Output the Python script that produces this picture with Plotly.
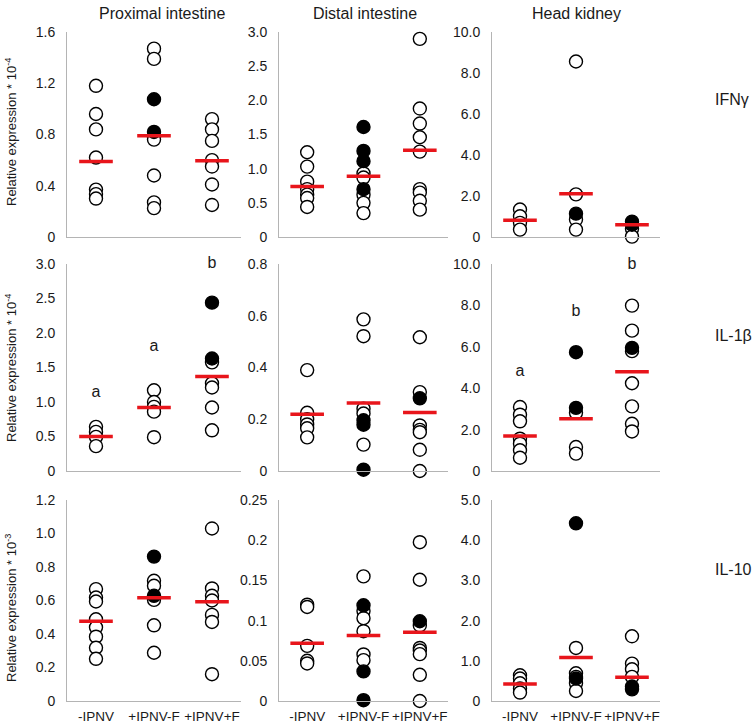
import plotly.graph_objects as go

W, H = 753, 727

groups = ["-IPNV", "+IPNV-F", "+IPNV+F"]
tissues = ["Proximal intestine", "Distal intestine", "Head kidney"]
genes = ["IFNγ", "IL-1β", "IL-10"]
ytitles = ["Relative expression * 10<sup>-4</sup>",
           "Relative expression * 10<sup>-4</sup>",
           "Relative expression * 10<sup>-3</sup>"]

# ---- Row 1: IFNγ ----
prox_ifn_open = [[1.18, 0.96, 0.84, 0.62, 0.37, 0.335, 0.30],
                 [1.47, 1.39, 0.78, 0.76, 0.48, 0.27, 0.225],
                 [0.92, 0.84, 0.75, 0.60, 0.55, 0.41, 0.25]]
prox_ifn_filled = [[], [1.075, 0.82], []]
prox_ifn_mid = [0.59, 0.79, 0.595]
prox_ifn_ticks = [0, 0.4, 0.8, 1.2, 1.6]
prox_ifn_labels = ["0", "0.4", "0.8", "1.2", "1.6"]

dist_ifn_open = [[1.24, 1.03, 0.81, 0.70, 0.62, 0.57, 0.44],
                 [0.93, 0.87, 0.62, 0.50, 0.35],
                 [2.90, 1.88, 1.66, 1.46, 1.25, 0.70, 0.65, 0.53, 0.40]]
dist_ifn_filled = [[], [1.61, 1.26, 1.11, 0.70], []]
dist_ifn_mid = [0.74, 0.89, 1.27]
dist_ifn_ticks = [0, 0.5, 1.0, 1.5, 2.0, 2.5, 3.0]
dist_ifn_labels = ["0", "0.5", "1.0", "1.5", "2.0", "2.5", "3.0"]

hk_ifn_open = [[1.34, 1.01, 0.69, 0.36],
               [8.56, 2.08, 0.85, 0.36],
               [0.40, 0.02]]
hk_ifn_filled = [[], [1.14], [0.75, 0.60]]
hk_ifn_mid = [0.82, 2.11, 0.60]
hk_ifn_ticks = [0, 2, 4, 6, 8, 10]
hk_ifn_labels = ["0", "2.0", "4.0", "6.0", "8.0", "10.0"]

# ---- Row 2: IL-1β ----
prox_il1_open = [[0.64, 0.567, 0.494, 0.36],
                 [1.17, 1.0, 0.93, 0.86, 0.49],
                 [1.575, 1.27, 1.21, 0.92, 0.59]]
prox_il1_filled = [[], [], [2.44, 1.63]]
prox_il1_mid = [0.50, 0.92, 1.37]
prox_il1_ticks = [0, 0.5, 1.0, 1.5, 2.0, 2.5, 3.0]
prox_il1_labels = ["0", "0.5", "1.0", "1.5", "2.0", "2.5", "3.0"]
prox_il1_letters = ["a", "a", "b"]
prox_il1_letter_y = [1.13, 1.79, 3.0]

dist_il1_open = [[0.39, 0.225, 0.20, 0.18, 0.165, 0.13],
                 [0.586, 0.521, 0.241, 0.222, 0.102],
                 [0.517, 0.305, 0.176, 0.159, 0.15, 0.082, 0.0]]
dist_il1_filled = [[], [0.196, 0.179, 0.005], [0.281]]
dist_il1_mid = [0.219, 0.263, 0.226]
dist_il1_ticks = [0, 0.2, 0.4, 0.6, 0.8]
dist_il1_labels = ["0", "0.2", "0.4", "0.6", "0.8"]

hk_il1_open = [[3.09, 2.72, 2.40, 1.56, 1.32, 1.00, 0.64],
               [2.81, 1.16, 0.84],
               [7.99, 6.78, 5.79, 4.24, 3.12, 2.28, 1.91]]
hk_il1_filled = [[], [5.74, 3.05], [5.95]]
hk_il1_mid = [1.69, 2.52, 4.79]
hk_il1_ticks = [0, 2, 4, 6, 8, 10]
hk_il1_labels = ["0", "2.0", "4.0", "6.0", "8.0", "10.0"]
hk_il1_letters = ["a", "b", "b"]
hk_il1_letter_y = [4.77, 7.70, 9.95]

# ---- Row 3: IL-10 ----
prox_il10_open = [[0.668, 0.618, 0.594, 0.488, 0.44, 0.384, 0.318, 0.252],
                  [0.718, 0.688, 0.604, 0.452, 0.288],
                  [1.03, 0.672, 0.628, 0.60, 0.514, 0.472, 0.16]]
prox_il10_filled = [[], [0.862, 0.628], []]
prox_il10_mid = [0.476, 0.616, 0.592]
prox_il10_ticks = [0, 0.2, 0.4, 0.6, 0.8, 1.0, 1.2]
prox_il10_labels = ["0", "0.2", "0.4", "0.6", "0.8", "1.0", "1.2"]

dist_il10_open = [[0.1198, 0.117, 0.0686, 0.050, 0.0467],
                  [0.155, 0.112, 0.103, 0.0868, 0.0579, 0.0508],
                  [0.1975, 0.1508, 0.094, 0.066, 0.0628, 0.0583, 0.0326, 0.0]]
dist_il10_filled = [[], [0.119, 0.0368, 0.001], [0.0992]]
dist_il10_mid = [0.0719, 0.0814, 0.0855]
dist_il10_ticks = [0, 0.05, 0.1, 0.15, 0.2, 0.25]
dist_il10_labels = ["0", "0.05", "0.1", "0.15", "0.2", "0.25"]

hk_il10_open = [[0.64, 0.56, 0.44, 0.31, 0.21],
                [1.32, 0.69, 0.60, 0.44, 0.25],
                [1.61, 0.93, 0.79, 0.60]]
hk_il10_filled = [[], [4.42, 0.56], [0.36, 0.29]]
hk_il10_mid = [0.42, 1.08, 0.59]
hk_il10_ticks = [0, 1, 2, 3, 4, 5]
hk_il10_labels = ["0", "1.0", "2.0", "3.0", "4.0", "5.0"]

panels = [
    [(prox_ifn_open, prox_ifn_filled, prox_ifn_mid, prox_ifn_ticks, prox_ifn_labels, None, None),
     (dist_ifn_open, dist_ifn_filled, dist_ifn_mid, dist_ifn_ticks, dist_ifn_labels, None, None),
     (hk_ifn_open, hk_ifn_filled, hk_ifn_mid, hk_ifn_ticks, hk_ifn_labels, None, None)],
    [(prox_il1_open, prox_il1_filled, prox_il1_mid, prox_il1_ticks, prox_il1_labels, prox_il1_letters, prox_il1_letter_y),
     (dist_il1_open, dist_il1_filled, dist_il1_mid, dist_il1_ticks, dist_il1_labels, None, None),
     (hk_il1_open, hk_il1_filled, hk_il1_mid, hk_il1_ticks, hk_il1_labels, hk_il1_letters, hk_il1_letter_y)],
    [(prox_il10_open, prox_il10_filled, prox_il10_mid, prox_il10_ticks, prox_il10_labels, None, None),
     (dist_il10_open, dist_il10_filled, dist_il10_mid, dist_il10_ticks, dist_il10_labels, None, None),
     (hk_il10_open, hk_il10_filled, hk_il10_mid, hk_il10_ticks, hk_il10_labels, None, None)],
]

# layout geometry (pixels)
col_px = [(67, 241), (279, 448), (492, 660)]
row_px = [(32, 237), (264, 471), (500, 701)]

FONT = "Liberation Sans, Arial, sans-serif"
TXT = "#1a1a1a"
AX = "#b4b4b4"

fig = go.Figure()
layout = dict(width=W, height=H, margin=dict(l=0, r=0, t=0, b=0, autoexpand=False),
              paper_bgcolor="white", plot_bgcolor="white", showlegend=False,
              font=dict(family=FONT, color=TXT, size=14))
annotations = []

idx = 0
for r in range(3):
    for c in range(3):
        idx += 1
        xa = "x" if idx == 1 else f"x{idx}"
        ya = "y" if idx == 1 else f"y{idx}"
        opn, fil, mid, ticks, labels, letters, letter_y = panels[r][c]
        ox, oy = [], []
        for g in range(3):
            ox += [groups[g]] * len(opn[g])
            oy += opn[g]
        fx, fy = [], []
        for g in range(3):
            fx += [groups[g]] * len(fil[g])
            fy += fil[g]
        fig.add_trace(go.Scatter(x=ox, y=oy, mode="markers", xaxis=xa, yaxis=ya,
                                 cliponaxis=False,
                                 marker=dict(symbol="circle", size=13, color="white",
                                             line=dict(color="black", width=1.4))))
        fig.add_trace(go.Scatter(x=fx, y=fy, mode="markers", xaxis=xa, yaxis=ya,
                                 cliponaxis=False,
                                 marker=dict(symbol="circle", size=13, color="black",
                                             line=dict(color="black", width=1.4))))
        fig.add_trace(go.Scatter(x=groups, y=mid, mode="markers", xaxis=xa, yaxis=ya,
                                 cliponaxis=False,
                                 marker=dict(symbol="line-ew", size=24,
                                             line=dict(color="#e8151b", width=3.5))))
        if letters:
            fig.add_trace(go.Scatter(x=groups, y=letter_y, mode="text", text=letters,
                                     xaxis=xa, yaxis=ya, cliponaxis=False,
                                     textfont=dict(size=16, color=TXT, family=FONT)))
        x0, x1 = col_px[c]
        y0, y1 = row_px[r]
        layout["xaxis" if idx == 1 else f"xaxis{idx}"] = dict(
            domain=[x0 / W, x1 / W], anchor=ya, type="category", automargin=False,
            categoryorder="array", categoryarray=groups, range=[-0.5, 2.5],
            showline=True, linecolor=AX, linewidth=1, showgrid=False, zeroline=False,
            showticklabels=(r == 2), tickangle=0, ticks="outside", ticklen=3,
            tickcolor="rgba(0,0,0,0)", tickfont=dict(size=13.5, color=TXT, family=FONT))
        layout["yaxis" if idx == 1 else f"yaxis{idx}"] = dict(
            domain=[1 - y1 / H, 1 - y0 / H], anchor=xa, range=[0, ticks[-1]],
            automargin=False,
            showline=True, linecolor=AX, linewidth=1, showgrid=False, zeroline=False,
            tickmode="array", tickvals=ticks, ticktext=labels,
            ticks="outside", ticklen=8, tickcolor="rgba(0,0,0,0)",
            tickfont=dict(size=14, color=TXT, family=FONT))

# column titles
col_title_x = [162, 365, 576]
for c in range(3):
    annotations.append(dict(text=tissues[c], x=col_title_x[c] / W, y=1 - 13 / H,
                            xref="paper", yref="paper", showarrow=False,
                            xanchor="center", yanchor="middle",
                            font=dict(size=16, color=TXT, family=FONT)))
# row labels
row_label_y = [100, 335, 569]
for r in range(3):
    annotations.append(dict(text=genes[r], x=713 / W, y=1 - row_label_y[r] / H,
                            xref="paper", yref="paper", showarrow=False,
                            xanchor="left", yanchor="middle",
                            font=dict(size=16, color=TXT, family=FONT)))
# y titles
ytitle_y = [132, 368, 608]
for r in range(3):
    annotations.append(dict(text=ytitles[r], x=11 / W, y=1 - ytitle_y[r] / H,
                            xref="paper", yref="paper", showarrow=False, textangle=-90,
                            xanchor="center", yanchor="middle",
                            font=dict(size=13, color=TXT, family=FONT)))

layout["annotations"] = annotations
fig.update_layout(**layout)
fig.write_html("out.html", config={"displayModeBar": False},
               post_script="document.body.style.margin='0';document.body.style.overflow='hidden';")
